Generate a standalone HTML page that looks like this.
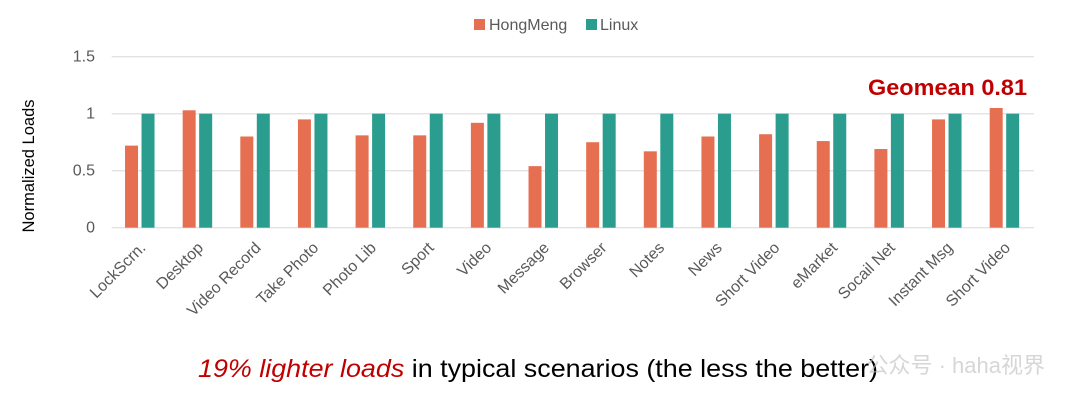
<!DOCTYPE html>
<html><head><meta charset="utf-8"><style>
body{margin:0;background:#fff;width:1080px;height:407px;overflow:hidden;font-family:"Liberation Sans","Noto Sans CJK SC",sans-serif}
</style></head><body>
<svg id="chart" width="1080" height="407" xmlns="http://www.w3.org/2000/svg" font-family="Liberation Sans, Noto Sans CJK SC, sans-serif">
<g id="grid"></g><g id="bars"></g><g id="labels"></g>
<g>
<rect x="474" y="19" width="11" height="11" fill="#E76F51"/>
<text x="489" y="30" font-size="16" fill="#595959">HongMeng</text>
<rect x="586" y="19" width="11" height="11" fill="#2A9D8F"/>
<text x="600" y="30" font-size="16" fill="#595959">Linux</text>
</g>
<text transform="translate(34,166) rotate(-90)" text-anchor="middle" font-size="16.5" fill="#000">Normalized Loads</text>
<text x="1027" y="95" text-anchor="end" font-size="22" font-weight="bold" fill="#C00000" textLength="159" lengthAdjust="spacingAndGlyphs">Geomean 0.81</text>
<text x="198" y="377" font-size="25" fill="#000" textLength="680" lengthAdjust="spacingAndGlyphs"><tspan fill="#C00000" font-style="italic">19% lighter loads</tspan> in typical scenarios (the less the better)</text>
<text x="1045" y="373" text-anchor="end" font-size="22" fill="#bbb" opacity="0.6">公众号 · haha视界</text>
</svg>
<script>
const categories=["LockScrn.","Desktop","Video Record","Take Photo","Photo Lib","Sport","Video","Message","Browser","Notes","News","Short Video","eMarket","Socail Net","Instant Msg","Short Video"];
const hongmeng=[0.72,1.03,0.80,0.95,0.81,0.81,0.92,0.54,0.75,0.67,0.80,0.82,0.76,0.69,0.95,1.05];
const linux=[1,1,1,1,1,1,1,1,1,1,1,1,1,1,1,1];
const yTicks=[0,0.5,1,1.5];
const NS="http://www.w3.org/2000/svg";
const x0=111.7,x1=1034,yZero=227.7,pxPerUnit=114;
const bw=(x1-x0)/categories.length;
const y=v=>yZero-v*pxPerUnit;
const cx=i=>x0+bw*(i+0.5);
function mk(tag,attrs,parent){const e=document.createElementNS(NS,tag);for(const k in attrs)e.setAttribute(k,attrs[k]);parent.appendChild(e);return e;}
const grid=document.getElementById('grid'),bars=document.getElementById('bars'),labels=document.getElementById('labels');
yTicks.forEach(t=>{
 const l=mk('line',{x1:x0,x2:x1,y1:y(t),y2:y(t),stroke:'#e3e3e3','stroke-width':1.3},grid);
 
 
 const tx=mk('text',{x:95,y:y(t)+5,'text-anchor':'end','font-size':16,fill:'#595959'},grid);
 tx.textContent=String(t);
 
 
});
categories.forEach((c,i)=>{
 const c0=cx(i);
 const r1=mk('rect',{x:c0-15.5,y:y(hongmeng[i]),width:13,height:hongmeng[i]*pxPerUnit,fill:'#E76F51'},bars);
 
 
 const r2=mk('rect',{x:c0+1,y:y(linux[i]),width:13,height:linux[i]*pxPerUnit,fill:'#2A9D8F'},bars);
 
 
 const t=mk('text',{transform:`translate(${c0+6},${yZero+21}) rotate(-45)`,'text-anchor':'end','font-size':16,fill:'#595959'},labels);
 t.textContent=c;
 
 
});
</script>
</body></html>
